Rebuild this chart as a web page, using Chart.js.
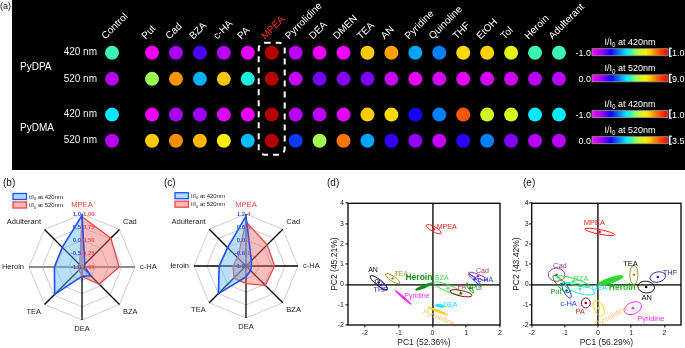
<!DOCTYPE html>
<html>
<head>
<meta charset="utf-8">
<script src="https://cdn.jsdelivr.net/npm/chart.js@4.4.0/dist/chart.umd.min.js"></script>
<style>
  html, body { margin: 0; padding: 0; background: #fff; }
  #wrap { position: relative; width: 685px; height: 348px; overflow: hidden; font-family: "Liberation Sans", Arial, sans-serif; }
  canvas { position: absolute; }
  .tag { position: absolute; font-size: 10px; color: #111; line-height: 10px; }
</style>
</head>
<body>
<div id="wrap">
  <canvas id="chartA" width="685" height="170" style="left:0;top:0"></canvas>
  <canvas id="chartB" width="170" height="176" style="left:0;top:172px"></canvas>
  <canvas id="chartC" width="170" height="176" style="left:170px;top:172px"></canvas>
  <canvas id="chartD" width="190" height="176" style="left:320px;top:172px"></canvas>
  <canvas id="chartE" width="175" height="176" style="left:510px;top:172px"></canvas>
  <div class="tag" style="left:0;top:1px;font-size:9px">(a)</div>
  <div class="tag" style="left:3px;top:178px">(b)</div>
  <div class="tag" style="left:164px;top:178px">(c)</div>
  <div class="tag" style="left:327px;top:178px">(d)</div>
  <div class="tag" style="left:523px;top:178px">(e)</div>
</div>
<script>
const FONT = '"Liberation Sans", Arial, sans-serif';
Chart.defaults.font.family = FONT;

// --- panel (a): sensor array response ---
const ANALYTES = ['Control', 'Put', 'Cad', 'BZA', 'c-HA', 'PA', 'MPEA', 'Pyrrolidine', 'DEA', 'DMEN',
  'TEA', 'AN', 'Pyridine', 'Quinoline', 'THF', 'EtOH', 'Tol', 'Heroin', 'Adulterant'];
const COLUMN_POS = [-1.67, 0, 1, 2, 3, 4, 5, 6, 7, 8, 9, 10, 11, 12, 13, 14, 15, 16, 17];
const ROW_POS = [0, 1, 2.37, 3.37];
const ROW_LABELS = ['420 nm', '520 nm', '420 nm', '520 nm'];
const SENSORS = ['PyDPA', 'PyDMA'];

const PYDPA_420 = [0.04, -0.98, -0.76, -0.6, -0.8, -0.92, 1.3, -0.8, -0.94, -0.96, 0.52, 0.6, -0.22, -0.28, 0.48, 0.5, 0.34, 0.04, 0.04];
const PYDPA_520 = [0.9, 5.2, 7.3, 3.6, 6.9, 4.3, 10.5, 0.7, 1.5, 1.35, 1.45, 0.7, 0.27, 0.54, 0.27, 0.54, 0.63, 0.9, 0.9];
const PYDMA_420 = [-0.1, -0.96, -0.76, -0.74, -0.92, -0.94, 1.3, -0.8, -0.82, -0.92, 0.52, 0.48, -0.5, -0.28, 0.76, 0.28, 0.29, -0.1, -0.1];
const PYDMA_520 = [0.35, 2.66, 2.87, 2.73, 2.45, 1.44, 4.0, 1.05, 2.03, 2.96, 1.37, 0.77, 0.49, 0.28, 0.8, 1.26, 0.54, 0.35, 0.35];

const BAR_MIN = [-1, 0, -1, 0];
const BAR_MAX = [1, 9, 1, 3.5];
const BAR_MIN_LABEL = ['-1.0', '0.0', '-1.0', '0.0'];
const BAR_MAX_LABEL = ['1.0', '9.0', '1.0', '3.5'];
const BAR_WAVE = ['420nm', '520nm', '420nm', '520nm'];

// --- panels (b), (c): radar ---
const RADAR_LABELS = ['MPEA', 'Cad', 'c-HA', 'BZA', 'DEA', 'TEA', 'Heroin', 'Adulterant'];
const B_420 = [0.95, -0.85, -0.9, -0.53, -0.65, 0.46, 0.04, 0.05];
const B_520 = [0.95, 0.77, 0.70, 0.46, 0.18, 0.08, 0.10, 0.06];
const B_420_TICKS = [-1, -0.5, 0, 0.5, 1];
const B_520_TICKS = [0, 0.25, 0.5, 0.75, 1];
const C_420 = [1.1, -0.85, -0.95, -0.9, -0.7, 0.6, 0.04, 0.0];
const C_520 = [3.4, 2.3, 2.2, 2.1, 1.35, 1.3, 1.0, 0.9];
const C_420_TICKS = [-1.2, -0.6, 0, 0.6, 1.2];
const C_520_TICKS = [0, 1, 2, 3, 4];

// --- panels (d), (e): PCA score ellipses (major axis ends, minor/major ratio, label centre) ---
const D_GROUPS = ['MPEA', 'AN', 'THF', 'TEA', 'Heroin', 'BZA', 'PA', 'Put', 'Cad', 'c-HA', 'Pyridine', 'DEA', 'Pyrrolidine'];
const D_X1 = [-0.18, -1.84, -1.69, -1.39, -0.5, 0.04, 0.52, 1.0, 1.07, 1.07, -1.1, 0.09, -0.14];
const D_Y1 = [2.93, 0.42, 0.22, 0.52, -0.27, 0.09, -0.32, 0.06, 0.58, 0.52, -0.3, -1.01, -1.12];
const D_X2 = [0.26, -1.34, -1.34, -0.97, 0.0, 0.88, 1.17, 1.22, 1.62, 1.42, -0.63, 0.34, 0.45];
const D_Y2 = [2.52, -0.24, -0.27, 0.06, 0.06, -0.47, -0.55, -0.43, 0.22, -0.02, -0.98, -1.09, -1.5];
const D_RATIO = [0.3, 0.28, 0.35, 0.3, 0.15, 0.22, 0.25, 0.2, 0.2, 0.15, 0.05, 0.3, 0.08];
const D_LABEL_X = [0.42, -1.76, -1.54, -0.93, -0.4, 0.28, 0.87, 1.31, 1.48, 1.57, -0.46, 0.53, 0.19];
const D_LABEL_Y = [2.85, 0.71, -0.3, 0.5, 0.33, 0.29, -0.12, -0.16, 0.66, 0.22, -0.55, -1.0, -1.64];
const D_X_TICKS = [-2, -1, 0, 1, 2];

const E_GROUPS = ['MPEA', 'TEA', 'THF', 'AN', 'Pyridine', 'Pyrrolidine', 'PA', 'c-HA', 'Put', 'Cad', 'BZA', 'DEA', 'Heroin'];
const E_X1 = [-0.4, 1.08, 1.57, 1.2, 0.8, -0.1, -0.37, -1.07, -1.35, -1.5, -1.25, -1.0, 0.0];
const E_Y1 = [2.73, 0.95, 0.28, -0.08, -1.35, -0.8, -0.67, 0.07, 0.43, 0.48, 0.39, -0.01, -0.01];
const E_X2 = [0.5, 1.08, 2.03, 1.7, 1.3, 0.14, -0.37, -0.83, -0.87, -1.0, -0.25, -0.1, 0.75];
const E_Y2 = [2.45, 0.0, 0.45, -0.18, -0.99, -1.54, -1.16, -0.67, -0.4, 0.48, -0.1, -0.43, 0.4];
const E_RATIO = [0.15, 0.42, 0.65, 0.7, 0.65, 0.55, 0.9, 0.35, 0.3, 0.8, 0.18, 0.3, 0.2];
const E_LABEL_X = [-0.11, 0.98, 2.17, 1.47, 1.59, 0.4, -0.54, -0.89, -1.27, -1.15, -0.51, 0.04, 0.73];
const E_LABEL_Y = [3.05, 1.0, 0.56, -0.67, -1.7, -1.58, -1.38, -0.95, -0.37, 0.89, 0.27, -0.18, -0.18];
const E_X_TICKS = [-2, -1, 0, 1, 2];

// rainbow map used by the spot colours and the colour bars
const CMAP_STOPS = [
  [0.00, 255, 0, 255], [0.12, 170, 0, 255], [0.25, 20, 0, 255], [0.37, 0, 140, 255],
  [0.45, 0, 235, 255], [0.52, 60, 245, 180], [0.58, 160, 255, 80], [0.66, 220, 245, 20],
  [0.71, 255, 240, 0], [0.77, 255, 195, 0], [0.83, 255, 130, 0], [0.90, 255, 70, 0], [1.00, 255, 0, 0]
];

function rainbow(t) {
  if (t > 1) return 'rgb(180,0,0)';
  t = Math.max(0, t);
  for (let i = 1; i < CMAP_STOPS.length; i++) {
    const a = CMAP_STOPS[i - 1];
    const b = CMAP_STOPS[i];
    if (t <= b[0]) {
      const f = (t - a[0]) / (b[0] - a[0]);
      const c = [1, 2, 3].map((k) => Math.round(a[k] + (b[k] - a[k]) * f));
      return `rgb(${c[0]},${c[1]},${c[2]})`;
    }
  }
  return 'rgb(255,0,0)';
}

// "I/I0 at xxx" with subscript zero
function ioWidth(ctx, size, tail) {
  ctx.font = `${size}px ${FONT}`;
  const w1 = ctx.measureText('I/I').width;
  const w3 = ctx.measureText(tail).width;
  ctx.font = `${size * 0.7}px ${FONT}`;
  return w1 + ctx.measureText('0').width + w3;
}

function drawIo(ctx, x, y, size, tail, color) {
  ctx.fillStyle = color;
  ctx.textAlign = 'left';
  ctx.textBaseline = 'alphabetic';
  ctx.font = `${size}px ${FONT}`;
  ctx.fillText('I/I', x, y);
  x += ctx.measureText('I/I').width;
  ctx.font = `${size * 0.7}px ${FONT}`;
  ctx.fillText('0', x, y + size * 0.25);
  x += ctx.measureText('0').width;
  ctx.font = `${size}px ${FONT}`;
  ctx.fillText(tail, x, y);
}

// ---------- panel (a) ----------
const rowValues = [PYDPA_420, PYDPA_520, PYDMA_420, PYDMA_520];

const arrayDecor = {
  id: 'arrayDecor',
  beforeDraw(chart) {
    const ctx = chart.ctx;
    ctx.save();
    ctx.fillStyle = '#000';
    ctx.fillRect(12, 0, 673, 171);
    ctx.restore();
  },
  afterDatasetsDraw(chart) {
    const { ctx } = chart;
    const xs = chart.scales.x;
    const ys = chart.scales.y;
    ctx.save();

    // dashed frame around the MPEA column
    const mx = xs.getPixelForValue(COLUMN_POS[ANALYTES.indexOf('MPEA')]);
    const top = ys.getPixelForValue(ROW_POS[0]) - 10;
    const bottom = ys.getPixelForValue(ROW_POS[3]) + 14;
    ctx.strokeStyle = '#fff';
    ctx.lineWidth = 2;
    ctx.setLineDash([6, 5]);
    ctx.beginPath();
    ctx.roundRect(mx - 13, top, 26, bottom - top, 6);
    ctx.stroke();
    ctx.setLineDash([]);

    // sensor names
    ctx.fillStyle = '#fff';
    ctx.font = `10px ${FONT}`;
    ctx.textAlign = 'left';
    ctx.textBaseline = 'middle';
    SENSORS.forEach((s, k) => {
      const y = (ys.getPixelForValue(ROW_POS[2 * k]) + ys.getPixelForValue(ROW_POS[2 * k + 1])) / 2 + 1;
      ctx.fillText(s, 20, y);
    });

    // colour bars
    const bx0 = 592;
    const bx1 = 668;
    ROW_POS.forEach((rp, r) => {
      const yc = ys.getPixelForValue(rp);
      const g = ctx.createLinearGradient(bx0, 0, bx1, 0);
      CMAP_STOPS.forEach((s) => g.addColorStop(s[0], `rgb(${s[1]},${s[2]},${s[3]})`));
      ctx.fillStyle = g;
      ctx.fillRect(bx0, yc - 4, bx1 - bx0, 7);
      ctx.strokeStyle = '#9a9a9a';
      ctx.lineWidth = 0.8;
      ctx.strokeRect(bx0, yc - 4, bx1 - bx0, 7);
      ctx.fillStyle = '#fff';
      ctx.fillRect(bx1 + 1, yc - 5, 1.5, 9);
      ctx.fillRect(bx1 + 1, yc - 5, 3, 1);
      ctx.fillRect(bx1 + 1, yc + 3, 3, 1);

      const tail = ` at ${BAR_WAVE[r]}`;
      const w = ioWidth(ctx, 9, tail);
      drawIo(ctx, (bx0 + bx1) / 2 - w / 2, yc - 7.5, 9, tail, '#fff');

      ctx.font = `9px ${FONT}`;
      ctx.textBaseline = 'middle';
      ctx.textAlign = 'right';
      ctx.fillText(BAR_MIN_LABEL[r], bx0 - 1, yc + 0.5);
      ctx.textAlign = 'left';
      ctx.fillText(BAR_MAX_LABEL[r], bx1 + 4, yc + 0.5);
    });
    ctx.restore();
  }
};

new Chart(document.getElementById('chartA'), {
  type: 'scatter',
  data: {
    datasets: rowValues.map((vals, r) => ({
      data: vals.map((v, i) => ({ x: COLUMN_POS[i], y: ROW_POS[r] })),
      backgroundColor: vals.map((v) => rainbow((v - BAR_MIN[r]) / (BAR_MAX[r] - BAR_MIN[r]))),
      borderWidth: 0,
      pointRadius: 7,
      pointHoverRadius: 7
    }))
  },
  options: {
    responsive: false,
    animation: false,
    events: [],
    layout: { padding: { left: 0, right: 105, top: 0, bottom: 5 } },
    plugins: { legend: { display: false }, tooltip: { enabled: false } },
    scales: {
      x: {
        type: 'linear',
        position: 'top',
        min: -2.172,
        max: 17.878,
        grid: { display: false, drawTicks: false },
        border: { display: false },
        afterBuildTicks: (s) => { s.ticks = COLUMN_POS.map((v) => ({ value: v })); },
        afterFit: (s) => { s.height = 45; },
        ticks: {
          autoSkip: false,
          minRotation: 45,
          maxRotation: 45,
          padding: 3,
          font: { size: 10 },
          color: (c) => (ANALYTES[c.index] === 'MPEA' ? '#ff2b2b' : '#ffffff'),
          callback: (v, i) => ANALYTES[i]
        }
      },
      y: {
        type: 'linear',
        reverse: true,
        min: -0.296,
        max: 4.148,
        grid: { display: false, drawTicks: false },
        border: { display: false },
        afterBuildTicks: (s) => { s.ticks = ROW_POS.map((v) => ({ value: v })); },
        afterFit: (s) => { s.width = 100; },
        ticks: {
          padding: 3,
          font: { size: 10 },
          color: '#f0f0f0',
          callback: (v, i) => ROW_LABELS[i]
        }
      }
    }
  },
  plugins: [arrayDecor]
});

// ---------- panels (b), (c) ----------
function radarDecor(o) {
  return {
    id: 'radarDecor',
    afterDraw(chart) {
      const ctx = chart.ctx;
      const rs = chart.scales.r;
      ctx.save();
      ctx.font = `7.5px ${FONT}`;
      RADAR_LABELS.forEach((lab, i) => {
        const p = rs.getPointPosition(i, rs.drawingArea + 5);
        const ang = rs.getIndexAngle(i);
        const s = Math.sin(ang);
        const c = Math.cos(ang);
        ctx.textAlign = s > 0.1 ? 'left' : s < -0.1 ? 'right' : 'center';
        ctx.textBaseline = c > 0.1 ? 'bottom' : c < -0.1 ? 'top' : 'middle';
        ctx.fillStyle = lab === 'MPEA' ? '#ff3b3b' : '#222';
        ctx.fillText(lab, p.x, p.y);
      });

      ctx.font = `bold 6px ${FONT}`;
      ctx.textBaseline = 'middle';
      o.ticks420.forEach((v) => {
        const p = rs.getPointPositionForValue(0, v);
        ctx.fillStyle = '#2a5cff';
        ctx.textAlign = 'right';
        ctx.fillText(v.toFixed(1), p.x - 1, p.y);
      });
      const rs2 = chart.scales.r2;
      o.ticks520.forEach((v) => {
        const p = rs2.getPointPositionForValue(0, v);
        ctx.fillStyle = '#ff4a4a';
        ctx.textAlign = 'left';
        ctx.fillText(v.toFixed(o.digits520), p.x + 1, p.y);
      });

      // legend
      const lx = o.legend[0];
      const ly = o.legend[1];
      ctx.lineWidth = 1.3;
      ctx.fillStyle = 'rgba(110,190,250,0.55)';
      ctx.strokeStyle = '#1f4fff';
      ctx.fillRect(lx, ly, 13.5, 6);
      ctx.strokeRect(lx, ly, 13.5, 6);
      ctx.fillStyle = 'rgba(245,130,130,0.55)';
      ctx.strokeStyle = '#f04848';
      ctx.fillRect(lx, ly + 8.5, 13.5, 6);
      ctx.strokeRect(lx, ly + 8.5, 13.5, 6);
      drawIo(ctx, lx + 16, ly + 5, 6, ' at 420nm', '#222');
      drawIo(ctx, lx + 16, ly + 13.5, 6, ' at 520nm', '#222');
      ctx.restore();
    }
  };
}

function makeRadar(id, v420, v520, t420, t520, digits520, pad, legend, axisColor) {
  new Chart(document.getElementById(id), {
    type: 'radar',
    data: {
      labels: RADAR_LABELS,
      datasets: [
        {
          data: v420,
          rAxisID: 'r',
          borderColor: '#1f4fff',
          backgroundColor: 'rgba(100,185,245,0.45)',
          borderWidth: 1.6,
          fill: 'start',
          pointRadius: 0
        },
        {
          data: v520,
          rAxisID: 'r2',
          borderColor: '#f04848',
          backgroundColor: 'rgba(240,110,110,0.45)',
          borderWidth: 1.3,
          fill: 'start',
          pointRadius: 0
        }
      ]
    },
    options: {
      responsive: false,
      animation: false,
      events: [],
      layout: { padding: pad },
      elements: { line: { tension: 0 } },
      plugins: { legend: { display: false }, tooltip: { enabled: false } },
      scales: {
        r: {
          type: 'radialLinear',
          min: t420[0],
          max: t420[t420.length - 1],
          ticks: { display: false, stepSize: t420[1] - t420[0] },
          pointLabels: { display: false },
          grid: { color: '#c2c2c2', lineWidth: 0.8 },
          angleLines: {
            color: (c) => axisColor(c.index),
            lineWidth: (c) => (axisColor(c.index) === '#000' ? 1.3 : 1.8)
          }
        },
        r2: {
          type: 'radialLinear',
          axis: 'r',
          min: t520[0],
          max: t520[t520.length - 1],
          ticks: { display: false, stepSize: t520[1] - t520[0] },
          pointLabels: { display: false },
          grid: { display: false },
          angleLines: { display: false }
        }
      }
    },
    plugins: [radarDecor({ ticks420: t420, ticks520: t520, digits520, legend })]
  });
}

makeRadar('chartB', B_420, B_520, B_420_TICKS, B_520_TICKS, 2,
  { left: 29.5, right: 34.5, top: 42, bottom: 28 }, [13, 21.5],
  (i) => (i === 0 || i === 2 || i === 6 ? '#8e8e8e' : '#000'));
makeRadar('chartC', C_420, C_520, C_420_TICKS, C_520_TICKS, 0,
  { left: 24.7, right: 41.3, top: 42.7, bottom: 29.3 }, [5, 20.7],
  () => '#000');

// ---------- panels (d), (e) ----------
const PCA_COLOR = {
  MPEA: '#ff2020', AN: '#111111', THF: '#2b2ba6', TEA: '#a39a22', Heroin: '#118a11', BZA: '#3fe03f',
  PA: '#8a0c0c', Put: '#139613', Cad: '#983a98', 'c-HA': '#1e40ff', Pyridine: '#ff2cff', DEA: '#1ee4ff',
  Pyrrolidine: '#ffd21e'
};
const PCA_LABEL_COLOR = Object.assign({}, PCA_COLOR, { PA: '#b03030', Pyrrolidine: '#f5c36e' });

function pcaDecor(p) {
  return {
    id: 'pcaDecor',
    afterDatasetsDraw(chart) {
      const { ctx, chartArea: a } = chart;
      const xs = chart.scales.x;
      const ys = chart.scales.y;
      ctx.save();
      p.names.forEach((name, i) => {
        const ax = xs.getPixelForValue(p.x1[i]);
        const ay = ys.getPixelForValue(p.y1[i]);
        const bx = xs.getPixelForValue(p.x2[i]);
        const by = ys.getPixelForValue(p.y2[i]);
        const half = Math.hypot(bx - ax, by - ay) / 2;
        const col = (p.stroke[name]) || PCA_COLOR[name];
        ctx.beginPath();
        ctx.ellipse((ax + bx) / 2, (ay + by) / 2, half, Math.max(0.8, half * p.ratio[i]),
          Math.atan2(by - ay, bx - ax), 0, Math.PI * 2);
        ctx.strokeStyle = col;
        ctx.lineWidth = 1;
        ctx.stroke();
        if (p.filled.includes(name)) {
          ctx.fillStyle = col;
          ctx.fill();
        }
      });
      p.names.forEach((name, i) => {
        const x = xs.getPixelForValue(p.lx[i]);
        const y = ys.getPixelForValue(p.ly[i]);
        ctx.save();
        ctx.translate(x, y);
        if (name === 'Pyrrolidine') ctx.rotate(p.pyrAngle);
        ctx.font = name === 'Heroin' ? `bold 8.5px ${FONT}` : `${p.labelSize}px ${FONT}`;
        ctx.fillStyle = (p.label[name]) || PCA_LABEL_COLOR[name];
        ctx.textAlign = 'center';
        ctx.textBaseline = 'middle';
        ctx.fillText(name, 0, 0);
        ctx.restore();
      });
      ctx.strokeStyle = '#000';
      ctx.lineWidth = 1.3;
      ctx.strokeRect(a.left, a.top, a.right - a.left, a.bottom - a.top);
      ctx.restore();
    }
  };
}

function makePca(id, p) {
  new Chart(document.getElementById(id), {
    type: 'scatter',
    data: {
      datasets: [{
        data: p.names.map((n, i) => ({ x: (p.x1[i] + p.x2[i]) / 2, y: (p.y1[i] + p.y2[i]) / 2 })),
        backgroundColor: p.names.map((n) => p.stroke[n] || PCA_COLOR[n]),
        borderWidth: 0,
        pointRadius: 1.3
      }]
    },
    options: {
      responsive: false,
      animation: false,
      events: [],
      layout: { padding: p.pad },
      plugins: { legend: { display: false }, tooltip: { enabled: false } },
      scales: {
        x: {
          type: 'linear',
          min: p.xMin,
          max: p.xMax,
          afterBuildTicks: (s) => { s.ticks = p.xTicks.map((v) => ({ value: v })); },
          afterFit: (s) => { s.height = 23; },
          grid: {
            drawTicks: true,
            tickLength: 2.5,
            tickColor: '#000',
            tickWidth: 1,
            color: (c) => (c.tick && c.tick.value === 0 ? '#444' : 'rgba(0,0,0,0)'),
            lineWidth: 1.8
          },
          border: { display: false },
          ticks: { font: { size: 7 }, color: '#222', padding: 1.5 },
          title: { display: true, text: p.xTitle, font: { size: 8.5 }, color: '#222', padding: { top: 0, bottom: 0 } }
        },
        y: {
          type: 'linear',
          min: -2,
          max: 4,
          afterFit: (s) => { s.width = p.yWidth; },
          grid: {
            drawTicks: true,
            tickLength: 2.5,
            tickColor: '#000',
            tickWidth: 1,
            color: (c) => (c.tick && c.tick.value === 0 ? '#444' : 'rgba(0,0,0,0)'),
            lineWidth: 1.8
          },
          border: { display: false },
          ticks: { stepSize: 1, font: { size: 7 }, color: '#222', padding: p.yPad },
          title: { display: true, text: p.yTitle, font: { size: 8.5 }, color: '#222', padding: { top: p.yTitlePad, bottom: 0 } }
        }
      }
    },
    plugins: [pcaDecor(p)]
  });
}

makePca('chartD', {
  names: D_GROUPS, x1: D_X1, y1: D_Y1, x2: D_X2, y2: D_Y2, ratio: D_RATIO, lx: D_LABEL_X, ly: D_LABEL_Y,
  xTicks: D_X_TICKS, xMin: -2.5, xMax: 2,
  xTitle: 'PC1 (52.36%)', yTitle: 'PC2 (45.21%)',
  pad: { left: 0, right: 10, top: 31.3, bottom: 0 }, yWidth: 28, yPad: 1.5, yTitlePad: 9.6,
  filled: ['Heroin', 'DEA', 'Pyrrolidine', 'Pyridine'],
  stroke: {}, label: {}, labelSize: 7, pyrAngle: 22 * Math.PI / 180
});

makePca('chartE', {
  names: E_GROUPS, x1: E_X1, y1: E_Y1, x2: E_X2, y2: E_Y2, ratio: E_RATIO, lx: E_LABEL_X, ly: E_LABEL_Y,
  xTicks: E_X_TICKS, xMin: -2, xMax: 2.5,
  xTitle: 'PC1 (56.29%)', yTitle: 'PC2 (43.42%)',
  pad: { left: 0, right: 3.3, top: 31.3, bottom: 0 }, yWidth: 21.7, yPad: 0.5, yTitlePad: 1.1,
  filled: ['Heroin'],
  stroke: { Heroin: '#2ed82e' }, label: { TEA: '#111111', Heroin: '#22c022' }, labelSize: 7.5,
  pyrAngle: -29 * Math.PI / 180
});
</script>
</body>
</html>
